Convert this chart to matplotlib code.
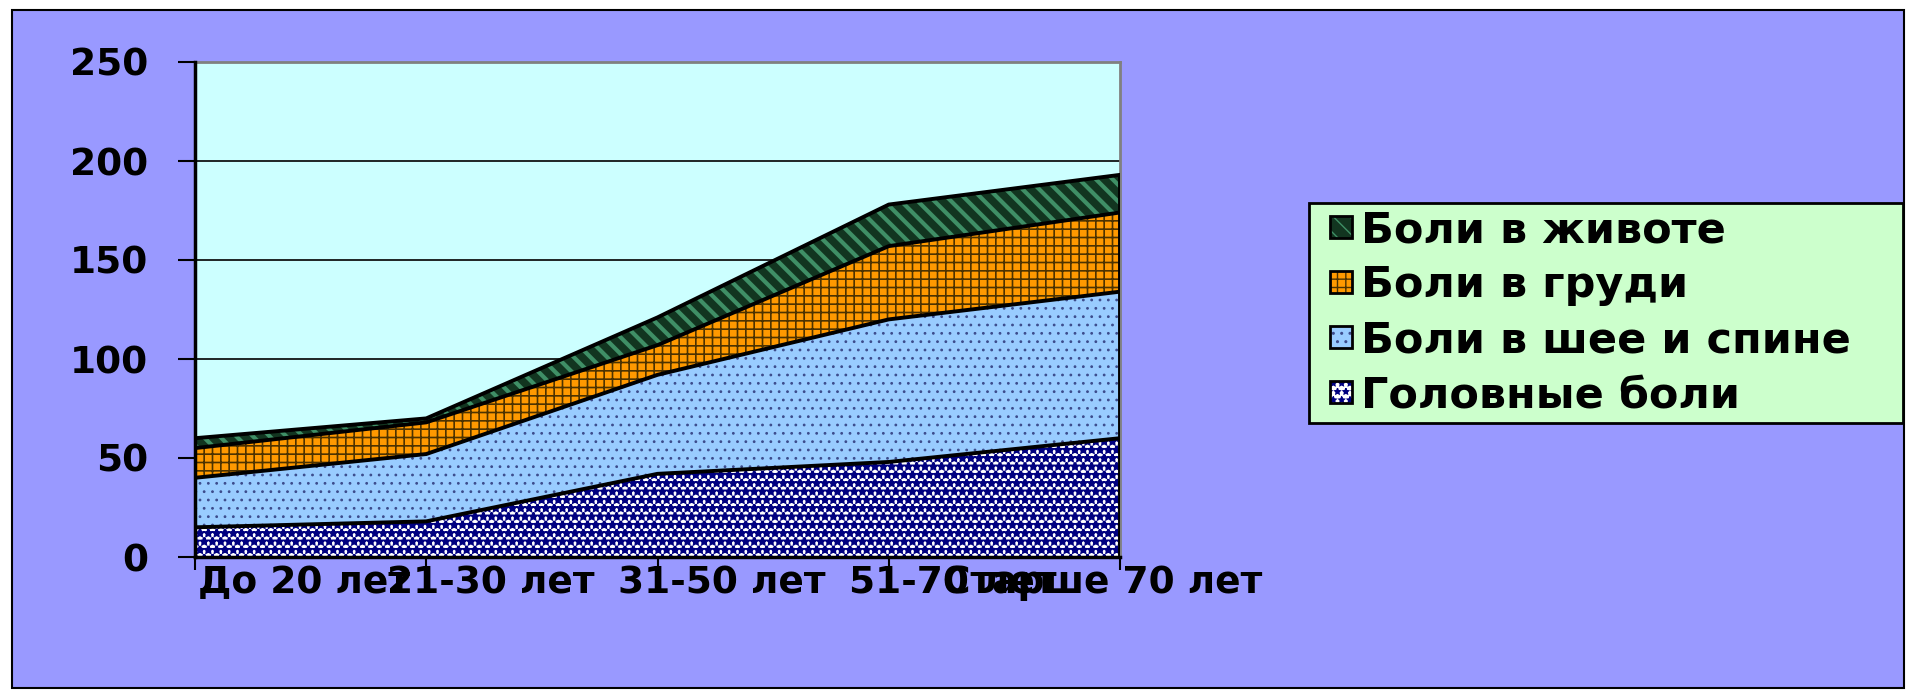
import numpy as np
import matplotlib
matplotlib.use("Agg")
import matplotlib.pyplot as plt
from matplotlib.patches import Patch, Rectangle
from matplotlib.legend_handler import HandlerTuple, HandlerPatch
from matplotlib.transforms import ScaledTranslation

plt.rcParams['font.family'] = ['DejaVu Sans']
plt.rcParams['font.weight'] = 'bold'

# age groups and counts per complaint (stacked)
categories = ["До 20 лет", "21-30 лет", "31-50 лет", "51-70 лет", "Старше 70 лет"]
headache = [15, 18, 42, 48, 60]
neck_back = [25, 34, 50, 72, 74]
chest = [15, 16, 15, 37, 40]
abdomen = [5, 2, 14, 21, 19]

series_names = ["Головные боли", "Боли в шее и спине", "Боли в груди", "Боли в животе"]
y_ticks = [0, 50, 100, 150, 200, 250]

# face colour, hatch, hatch colour, hatch width
styles = [
    ("#FFFFFF", "**", "#000080", 1.8),
    ("#99CCFF", "..", "#3c4c8c", 0.8),
    ("#FF9900", "++", "#4d3300", 1.2),
    ("#123520", "\\\\", "#3f8f66", 3.0),
]


def set_hatch_width(artist, lw):
    if hasattr(artist, "set_hatch_linewidth"):
        artist.set_hatch_linewidth(lw)


def square_key(legend, orig_handle, xdescent, ydescent, width, height, fontsize):
    # small square at the right end of the handle slot
    s = height
    return Rectangle((-xdescent + width - s, -ydescent), s, s)


fig = plt.figure(figsize=(19.08, 6.94), dpi=100)
fig.patch.set_facecolor("white")
fig.add_artist(Rectangle((12 / 1908, 6 / 694), 1892 / 1908, 678 / 694,
                         transform=fig.transFigure, facecolor="#9999FF",
                         edgecolor="black", linewidth=1.5, zorder=-10))

ax = fig.add_axes([195 / 1908, 137 / 694, 925 / 1908, 495 / 694])
ax.set_facecolor("#CCFFFF")
ax.patch.set_zorder(-5)

x = np.arange(len(categories))
layers = [np.array(headache), np.array(neck_back), np.array(chest), np.array(abdomen)]
base = np.zeros(len(x))
handles = []
for vals, name, (face, hatch, hcol, hlw) in zip(layers, series_names, styles):
    top = base + vals
    ax.fill_between(x, base, top, facecolor=face, linewidth=0, zorder=2)
    h = ax.fill_between(x, base, top, facecolor="none", hatch=hatch,
                        edgecolor=hcol, linewidth=0, zorder=3)
    set_hatch_width(h, hlw)
    ax.plot(x, top, color="black", linewidth=2.8, zorder=5, solid_joinstyle="round")
    p1 = Patch(facecolor=face, hatch=hatch, edgecolor=hcol, linewidth=0)
    set_hatch_width(p1, hlw)
    p2 = Patch(facecolor="none", edgecolor="black", linewidth=2.0)
    handles.append((p1, p2))
    base = top

# right edge of the stack
ax.vlines(x[-1], 0, base[-1], color="black", linewidth=2.8, zorder=5)

ax.set_xlim(x[0], x[-1])
ax.set_ylim(0, 250)
ax.set_yticks(y_ticks)
ax.yaxis.grid(True, color="black", linewidth=1.2)
ax.set_axisbelow(True)

for side in ("left", "bottom"):
    ax.spines[side].set_color("black")
    ax.spines[side].set_linewidth(2.5)
    ax.spines[side].set_zorder(6)
for side in ("top", "right"):
    ax.spines[side].set_color("#808080")
    ax.spines[side].set_linewidth(2.0)

ax.tick_params(axis="y", direction="out", length=12, width=1.5, pad=22,
               labelsize=27, colors="black")
ax.tick_params(axis="x", direction="out", length=9, width=1.5, pad=-3,
               labelsize=27, colors="black")
ax.set_xticks(x)
ax.set_xticklabels(categories, fontweight="bold")
for t in ax.get_yticklabels():
    t.set_fontweight("bold")

# category labels sit left-aligned, shifted sideways from their ticks
shifts_px = [3, -39, -39, -40, -177]
for lab, dx in zip(ax.get_xticklabels(), shifts_px):
    lab.set_horizontalalignment("left")
    lab.set_transform(lab.get_transform() + ScaledTranslation(dx / 100, 0, fig.dpi_scale_trans))

leg = fig.legend(handles[::-1], series_names[::-1],
                 handler_map={tuple: HandlerTuple(ndivide=1, pad=0),
                              Patch: HandlerPatch(patch_func=square_key)},
                 loc="upper left", bbox_to_anchor=(1309 / 1908, 1 - 203 / 694, 594 / 1908, 0.0),
                 mode="expand", fontsize=31, frameon=True, fancybox=False,
                 edgecolor="black", facecolor="#CCFFCC", framealpha=1,
                 handlelength=0.85, handleheight=0.4, handletextpad=0.2,
                 labelspacing=0.3, borderpad=0.15, borderaxespad=0)
leg.get_frame().set_linewidth(2.0)
for t in leg.get_texts():
    t.set_fontweight("bold")

fig.savefig("out.png", dpi=100)
